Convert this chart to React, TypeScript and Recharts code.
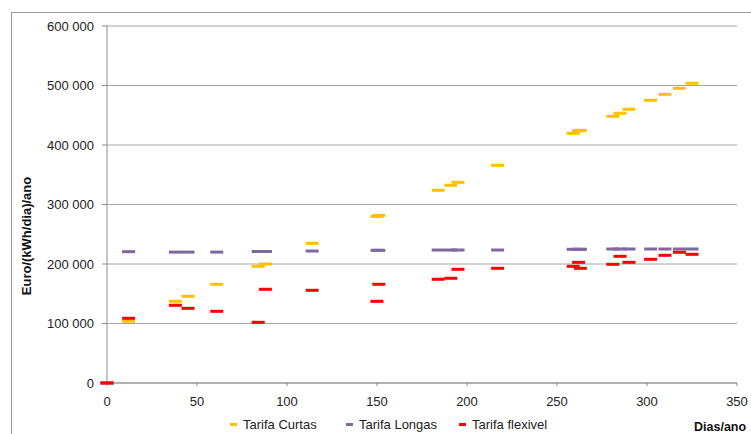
import React from 'react';
import {
  ScatterChart,
  Scatter,
  XAxis,
  YAxis,
  CartesianGrid,
  Legend,
} from 'recharts';

// day of the year for each tariff reading
const days = [0, 12, 38, 45, 61, 84, 88, 114, 150, 151, 184, 191, 195, 217, 259, 262, 263, 281, 285, 290, 302, 310, 318, 325];

const curtas = [0, 103700, 137300, 145700, 165900, 196100, 200000, 234800, 280000, 281800, 323900, 332300, 337300, 365800, 419700, 424000, 424700, 448200, 453300, 460000, 475100, 485200, 495300, 503700];
const longas = [0, 220700, 220000, 220000, 220000, 221000, 221000, 221800, 223000, 223000, 223500, 223500, 223500, 223500, 224700, 224700, 224700, 225200, 225200, 225200, 225200, 225200, 225200, 225200];
const flexivel = [0, 108700, 130600, 125500, 120500, 102000, 157500, 155800, 137300, 165900, 174300, 176000, 191100, 192800, 196100, 202800, 192800, 199500, 212900, 202800, 207900, 214600, 219700, 216300];

const xTicks = [0, 50, 100, 150, 200, 250, 300, 350];
const yTicks = [0, 100000, 200000, 300000, 400000, 500000, 600000];

const series = [
  { name: 'Tarifa Curtas', color: '#ffc000', values: curtas },
  { name: 'Tarifa Longas', color: '#7d68a0', values: longas },
  { name: 'Tarifa flexivel', color: '#ff0000', values: flexivel },
];

const FONT = '"Liberation Sans", Arial, sans-serif';

const fmt = (v: number) => String(v).replace(/\B(?=(\d{3})+(?!\d))/g, ' ');

// short horizontal dash as the point marker
const Dash = (props: any) => {
  const { cx, cy, fill } = props;
  return <rect x={cx - 6.5} y={cy - 1.5} width={13} height={3} fill={fill} />;
};

const legendX = [230, 346, 459];

const LegendRow = () => (
  <div style={{ position: 'relative', height: 20, fontFamily: FONT, fontSize: 13, color: '#222' }}>
    {series.map((s, i) => (
      <div key={s.name} style={{ position: 'absolute', left: legendX[i], top: 2, display: 'flex', alignItems: 'center' }}>
        <span style={{ display: 'inline-block', width: 7, height: 3, background: s.color, marginRight: 6 }} />
        <span>{s.name}</span>
      </div>
    ))}
  </div>
);

const App = () => {
  return (
    <div style={{ position: 'absolute', left: 0, top: 0, width: 751, height: 434, overflow: 'hidden', background: '#fff' }}>
      <div
        style={{
          position: 'absolute',
          left: 11,
          top: 12,
          width: 800,
          height: 500,
          borderLeft: '1px solid #9a9a9a',
          borderTop: '1px solid #9a9a9a',
        }}
      />
      <ScatterChart
        width={751}
        height={434}
        margin={{ top: 26, right: 14, bottom: 0, left: 0 }}
        style={{ position: 'absolute', left: 0, top: 0, fontFamily: FONT }}
      >
        <CartesianGrid vertical={false} stroke="#a6a6a6" />
        <XAxis
          type="number"
          dataKey="x"
          domain={[0, 350]}
          ticks={xTicks}
          height={51}
          stroke="#8c8c8c"
          tickSize={3}
          tickMargin={11}
          tick={{ fill: '#222', fontSize: 13 }}
          label={(p: any) => (
            <text
              x={p.viewBox.x + p.viewBox.width - 43}
              y={p.viewBox.y + 48}
              fontSize={12.5}
              fontWeight="bold"
              fill="#111"
            >
              Dias/ano
            </text>
          )}
        />
        <YAxis
          type="number"
          dataKey="y"
          domain={[0, 600000]}
          ticks={yTicks}
          width={107}
          stroke="#8c8c8c"
          tickSize={5}
          tickMargin={8}
          tickFormatter={fmt}
          tick={{ fill: '#222', fontSize: 13 }}
          label={() => (
            <text
              x={26}
              y={236}
              transform="rotate(-90 26 236)"
              textAnchor="middle"
              dominantBaseline="central"
              fontSize={13}
              fontWeight="bold"
              fill="#111"
            >
              Euro/(kWh/dia)/ano
            </text>
          )}
        />
        <Legend
          layout="horizontal"
          verticalAlign="middle"
          content={() => <LegendRow />}
          wrapperStyle={{ top: 415, left: 0, width: 751, height: 20 }}
        />
        {series.map((s) => (
          <Scatter
            key={s.name}
            name={s.name}
            data={days.map((d, i) => ({ x: d, y: s.values[i] }))}
            fill={s.color}
            shape={Dash}
            isAnimationActive={false}
          />
        ))}
      </ScatterChart>
    </div>
  );
};

export default App;
